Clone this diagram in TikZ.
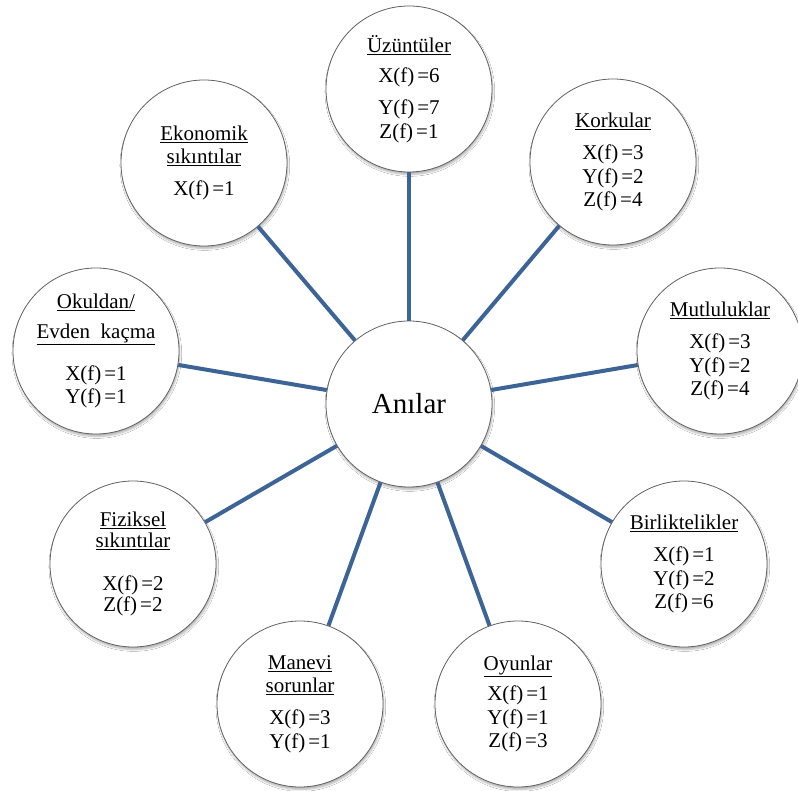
\documentclass[tikz,border=0pt]{standalone}
\usepackage{fontspec}
\setmainfont{Liberation Serif}
\usetikzlibrary{shadows.blur}
\definecolor{linkblue}{RGB}{60,100,150}
\newcommand{\fv}[2]{#1(f)\hspace{3pt}=#2}
\begin{document}
\begin{tikzpicture}[x=1pt,y=-1pt,
  bub/.style={circle,draw=black!62,line width=0.8pt,fill=white,minimum size=166pt,inner sep=0pt,
    align=center,font=\fontsize{21}{23.5}\selectfont,
    blur shadow={shadow xshift=0.8pt,shadow yshift=-2.5pt,shadow blur steps=6,shadow opacity=30}},
  conn/.style={draw=linkblue,line width=4pt}]
\useasboundingbox (0,0) rectangle (798,791);
\fill[white] (0,0) rectangle (798,791);
\node[bub] (c) at (409,404) {\fontsize{29}{32}\selectfont An\i lar};
\node[bub] (uz) at (409,89) {\underline{Üzüntüler}\\[6.5pt]\fv{X}{6}\\[8.5pt]\fv{Y}{7}\\\fv{Z}{1}};
\node[bub] (ko) at (613,162) {\underline{Korkular}\\[8.5pt]\fv{X}{3}\\\fv{Y}{2}\\\fv{Z}{4}};
\node[bub] (mu) at (720,351) {\underline{Mutluluklar}\\[8.5pt]\fv{X}{3}\\\fv{Y}{2}\\\fv{Z}{4}};
\node[bub] (bi) at (684,564) {\underline{Birliktelikler}\\[9pt]\fv{X}{1}\\\fv{Y}{2}\\\fv{Z}{6}};
\node[bub] (oy) at (518,704) {\underline{Oyunlar}\\[6.5pt]\fv{X}{1}\\\fv{Y}{1}\\\fv{Z}{3}};
\node[bub] (ma) at (300,704) {\underline{Manevi}\\\underline{sorunlar}\\[8.5pt]\fv{X}{3}\\\fv{Y}{1}};
\node[bub] (fi) at (133,564) {\underline{Fiziksel}\\[-2.5pt]\underline{s\i k\i nt\i lar}\\[19.5pt]\fv{X}{2}\\[-2.5pt]\fv{Z}{2}};
\node[bub] (ok) at (96,351) {\underline{Okuldan/}\\[6.5pt]\underline{Evden\ \ kaçma}\\[18.5pt]\fv{X}{1}\\\fv{Y}{1}};
\node[bub] (ek) at (204,163) {\underline{Ekonomik}\\\underline{s\i k\i nt\i lar}\\[8.5pt]\fv{X}{1}};
\foreach \n in {uz,ko,mu,bi,oy,ma,fi,ok,ek} \draw[conn] (c) -- (\n);
\end{tikzpicture}
\end{document}
